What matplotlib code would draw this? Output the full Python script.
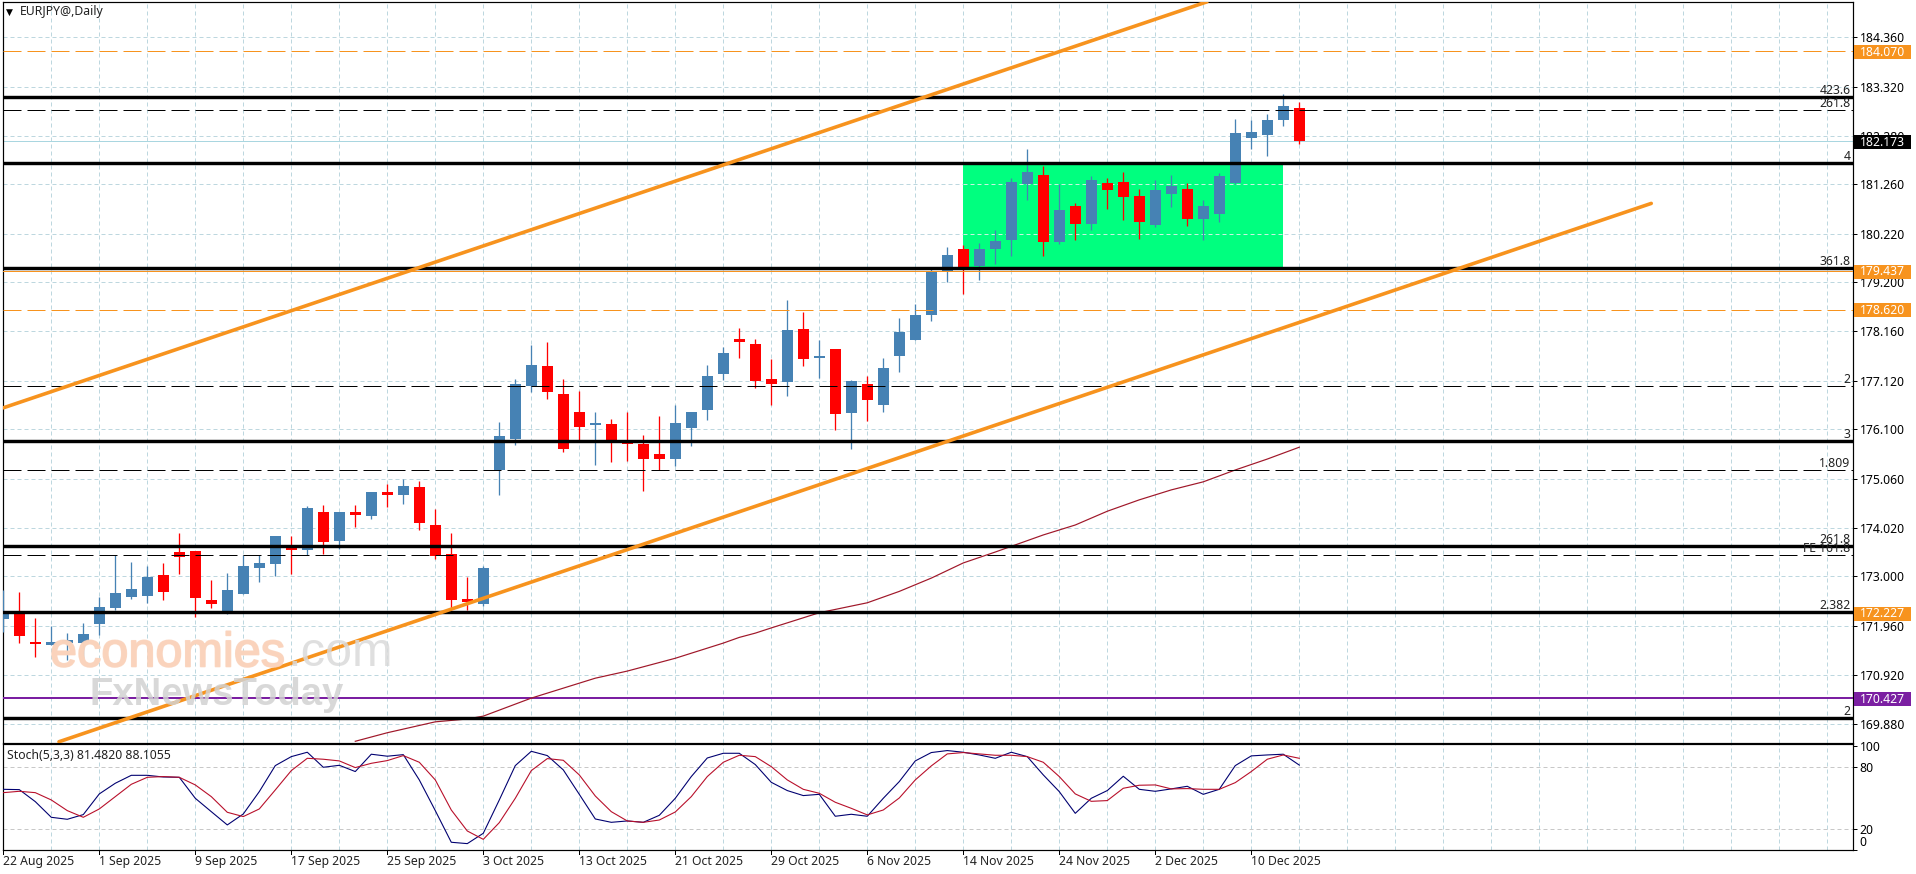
# -*- coding: utf-8 -*-
import matplotlib
matplotlib.use("Agg")
import matplotlib.pyplot as plt
import matplotlib.patheffects as pe
from matplotlib.patches import Rectangle
from matplotlib.transforms import blended_transform_factory

W, H = 1916, 874
FONT = "Noto Sans"
FS = 8.8

opens = [172.10,172.20,171.61,171.56,171.60,171.59,171.99,172.32,172.56,172.59,
         173.03,173.51,173.53,172.50,172.22,172.63,173.18,173.26,173.62,173.56,
         174.36,173.74,174.36,174.27,174.78,174.72,174.88,174.08,173.47,172.52,
         172.42,175.24,175.90,177.01,177.43,176.84,176.46,176.18,176.20,175.87,
         175.78,175.57,175.47,176.12,176.50,177.26,178.00,177.89,177.15,177.09,
         178.21,177.60,177.79,176.44,177.05,176.60,177.64,177.98,178.50,179.43,
         179.90,179.54,179.90,180.09,181.27,181.46,180.04,180.80,180.42,181.29,
         181.31,181.01,180.40,181.06,181.16,180.53,180.63,181.29,182.24,182.30,
         182.62,182.87]
highs = [172.70,172.67,172.12,171.94,171.80,172.02,172.56,173.45,173.30,173.22,
         173.28,173.91,173.53,172.92,173.07,173.45,173.45,173.85,173.85,174.47,
         174.50,174.36,174.50,174.78,174.95,175.05,175.01,174.42,173.91,172.99,
         173.22,176.26,177.16,177.87,177.93,177.15,176.90,176.46,176.31,176.46,
         175.97,176.37,176.60,176.46,177.45,177.83,178.23,178.00,177.57,178.82,
         178.57,177.98,177.79,177.13,177.22,177.60,178.44,178.74,179.49,179.94,
         179.98,180.02,180.30,181.39,182.01,181.65,181.27,180.87,181.44,181.39,
         181.52,181.16,181.35,181.46,181.29,180.93,181.50,182.64,182.62,182.74,
         183.17,182.99]
lows = [171.83,171.59,171.30,171.55,171.23,171.28,171.76,172.29,172.53,172.43,
        172.49,173.05,172.13,172.33,172.20,172.63,172.88,173.01,173.05,173.45,
        173.47,173.58,174.04,174.21,174.46,174.53,173.98,173.36,172.29,172.29,
        172.37,174.72,175.77,176.88,176.73,175.61,175.87,175.34,175.40,175.42,
        174.79,175.23,175.33,175.74,176.29,177.13,177.60,176.96,176.60,176.79,
        177.43,177.17,176.08,175.68,176.27,176.47,177.30,177.98,178.38,179.20,
        178.95,179.24,179.58,179.75,180.93,179.75,180.00,180.09,180.30,180.74,
        180.51,180.11,180.36,180.78,180.38,180.09,180.47,181.27,182.00,181.86,
        182.49,182.11]
closes = [172.20,171.75,171.58,171.61,171.66,171.78,172.35,172.65,172.73,172.99,
          172.67,173.41,172.54,172.42,172.71,173.22,173.28,173.85,173.56,174.44,
          173.72,174.36,174.29,174.78,174.72,174.91,174.12,173.43,172.50,172.46,
          173.18,175.96,177.06,177.45,176.88,175.69,176.14,176.22,175.87,175.78,
          175.47,175.47,176.22,176.46,177.22,177.70,177.93,177.11,177.05,178.19,
          177.58,177.64,176.42,177.11,176.71,177.38,178.14,178.50,179.43,179.77,
          179.50,179.90,180.07,181.31,181.52,180.04,180.72,180.42,181.35,181.14,
          180.99,180.46,181.14,181.23,180.53,180.80,181.44,182.34,182.37,182.62,
          182.91,182.173]

# moving average, read at these bars
ma_idx = [22,24,27,29,30,33,35,37,39,42,45,46,47,48,51,52,54,56,58,60,62,65,67,69,71,73,75,77,79,81]
ma_val = [169.52,169.70,169.93,169.99,170.05,170.43,170.64,170.85,171.00,171.27,
          171.59,171.71,171.80,171.91,172.23,172.30,172.44,172.68,172.96,173.28,
          173.51,173.87,174.08,174.37,174.61,174.82,174.99,175.24,175.47,175.72]

stoch_main = [58.3,58.0,46.5,31.5,29.6,34.1,53.9,64.1,71.7,71.7,
              70.1,69.8,49.7,36.9,24.2,34.7,56.1,81.0,89.6,93.8,
              79.4,81.3,75.3,91.9,90.0,91.5,67.3,37.9,7.6,6.3,
              16.2,48.1,81.0,94.7,90.6,76.9,53.5,29.9,26.7,28.0,
              26.7,33.4,49.7,70.5,88.3,92.8,92.8,82.0,65.0,57.1,
              52.3,53.5,32.5,34.4,32.5,49.7,65.7,85.5,93.5,95.4,
              93.8,91.2,88.0,93.8,89.6,72.1,56.1,35.3,49.7,57.1,
              70.8,58.3,56.4,58.7,61.2,53.5,58.3,81.0,90.3,91.2,
              91.9,81.5]
stoch_signal = [55.1,56.4,55.1,48.1,37.9,31.5,39.5,51.3,63.1,69.8,
                70.5,69.8,62.5,51.3,36.3,32.2,39.5,57.7,76.2,88.0,
                87.1,85.5,79.1,83.2,85.8,90.6,84.2,67.3,38.5,18.4,
                10.4,26.4,49.7,76.2,87.7,86.1,72.1,51.9,36.9,28.0,
                26.7,28.9,36.6,51.3,70.5,84.2,90.9,89.6,80.0,67.3,
                58.3,54.5,45.9,40.1,33.8,38.5,50.0,67.3,80.7,92.2,
                93.5,92.2,90.9,90.9,89.6,84.2,70.5,53.9,46.8,47.5,
                59.3,62.2,62.5,58.7,59.0,58.3,58.3,64.7,75.3,87.1,
                91.2,88.0]

price_ticks = [184.36,183.32,182.28,181.26,180.22,179.20,178.16,177.12,
               176.10,175.06,174.02,173.00,171.96,170.92,169.88]
date_ticks = ["22 Aug 2025","1 Sep 2025","9 Sep 2025","17 Sep 2025","25 Sep 2025",
              "3 Oct 2025","13 Oct 2025","21 Oct 2025","29 Oct 2025","6 Nov 2025",
              "14 Nov 2025","24 Nov 2025","2 Dec 2025","10 Dec 2025"]

# (price, label) for the level lines
solid_levels = [(183.10,"423.6"),(181.71,"4"),(179.49,"361.8"),(175.86,"3"),
                (173.64,"261.8"),(172.245,"2.382"),(170.02,"2")]
dashed_levels = [(182.82,"261.8"),(177.02,"2"),(175.24,"1.809"),(173.44,"FE 161.8")]
orange_dashed = [184.07,178.62]
orange_solid = [179.437,172.227]
purple_level = 170.427
last_price = 182.173

upper_channel = ([0,75.23],[176.55,185.11])
lower_channel = ([3.48,103.0],[169.51,180.86])
box_bars = (60,80)
box_prices = (179.50,181.70)

BLUE = "#4682B4"
RED = "#FF0000"
ORANGE = "#F7931E"
GRID = "#BDD7DF"
DASH_GRID = (0,(4,3))
DASH_LEVEL = (0,(18,6))
PX = 0.72


def make_axes(left, top, right, bottom):
    return fig.add_axes([left/W, 1-bottom/H, (right-left)/W, (bottom-top)/H])


def price_box(ax, value, color):
    trans = blended_transform_factory(ax.transAxes, ax.transData)
    x0 = 1.0005
    ax.add_patch(Rectangle((x0,value-0.165), 57/1850, 0.295, transform=trans, color=color,
                           clip_on=False, zorder=20, lw=0))
    ax.text(1+7/1850, value-0.02, "%.3f" % value, transform=trans, color="white", fontsize=FS,
            family=FONT, va="center", ha="left", zorder=21)


fig = plt.figure(figsize=(W/100,H/100), dpi=100, facecolor="white")
ax = make_axes(2.5,2.3,1852.7,742.7)
ax2 = make_axes(2.5,744.3,1852.7,850.2)

xlim = (-0.05,115.59)
for a in (ax,ax2):
    a.set_xlim(*xlim)
    for s in a.spines.values():
        s.set_linewidth(PX*1.2)
    a.set_axisbelow(True)
    a.set_xticks(range(0,116,3))
    a.grid(axis="x",color=GRID,lw=PX,ls=DASH_GRID,zorder=0)
    a.tick_params(axis="y",length=3,width=PX,right=True,left=False,labelright=True,labelleft=False,
                  labelsize=FS,pad=2)
    a.tick_params(axis="x",length=0,labelbottom=False)

ax.set_ylim(169.49,185.10)
ax.set_yticks(price_ticks)
ax.set_yticklabels(["%.3f" % p for p in price_ticks],family=FONT)
ax.grid(axis="y",color=GRID,lw=PX,ls=DASH_GRID,zorder=0)

# green box
ax.add_patch(Rectangle((box_bars[0],box_prices[0]),box_bars[1]-box_bars[0],box_prices[1]-box_prices[0],
                       color="#00FF7F",lw=0,zorder=1))
for p in price_ticks:
    if box_prices[0] < p < box_prices[1]:
        ax.plot(box_bars,[p,p],color="#C8F5E0",lw=PX,ls=DASH_GRID,zorder=1.2)

# candles
xs = list(range(len(opens)))
colors = [BLUE if c >= o else RED for o,c in zip(opens,closes)]
bottoms = [min(o,c) for o,c in zip(opens,closes)]
heights = [abs(o-c) for o,c in zip(opens,closes)]
ax.vlines(xs,lows,highs,colors=colors,lw=PX*1.3,zorder=3)
ax.bar(xs,heights,bottom=bottoms,width=0.69,color=colors,lw=0,zorder=3)

# level lines
trans = blended_transform_factory(ax.transAxes,ax.transData)
ax.axhline(last_price,color="#A9D6E0",lw=PX,zorder=2)
for p in orange_dashed:
    ax.axhline(p,color=ORANGE,lw=PX,ls=DASH_LEVEL,zorder=4)
for p in orange_solid:
    ax.axhline(p,color=ORANGE,lw=PX,zorder=4)
ax.axhline(purple_level,color="#7B1FA2",lw=PX*2,zorder=4)
for p,label in dashed_levels:
    ax.axhline(p,color="black",lw=PX,ls=DASH_LEVEL,zorder=5)
for p,label in solid_levels:
    ax.axhline(p,color="black",lw=PX*3.4,zorder=5)
for p,label in solid_levels+dashed_levels:
    ax.annotate(label,xy=(1,p),xycoords=trans,xytext=(-2,3),textcoords="offset pixels",
                ha="right",va="baseline",fontsize=FS,family=FONT,color="#222222",zorder=6)

ax.plot(*upper_channel,color=ORANGE,lw=PX*3.6,solid_capstyle="round",zorder=6)
ax.plot(*lower_channel,color=ORANGE,lw=PX*3.6,solid_capstyle="round",zorder=6)
ax.plot(ma_idx,ma_val,color="#A0182A",lw=PX*1.2,zorder=4)

# price boxes on the axis
price_box(ax,184.07,ORANGE)
price_box(ax,179.437,ORANGE)
price_box(ax,178.62,ORANGE)
price_box(ax,172.227,ORANGE)
price_box(ax,170.427,"#7B1FA2")
price_box(ax,last_price,"black")

# title and watermark
fig.text(20/W,1-12/H,"EURJPY@,Daily",fontsize=FS,family=FONT,va="center",color="#222222")
fig.text(6/W,1-12/H,"\u25BC",fontsize=6.5,family="DejaVu Sans",va="center",color="black")
t1 = fig.text(50/W,1-654/H,"economies",fontsize=35,family="Liberation Sans",va="center",
              color="#FAD3BC",alpha=0.9,zorder=30)
t2 = fig.text(288/W,1-654/H,".com",fontsize=35,family="Liberation Sans",va="center",
              color="#DADADA",alpha=0.85,zorder=30)
t1.set_path_effects([pe.withStroke(linewidth=1.2,foreground="#FAD3BC")])
fig.text(89/W,1-695/H,"FxNewsToday",fontsize=27.5,family="Liberation Sans",weight="bold",va="center",
         color="#D2D2D2",alpha=0.85,zorder=30)

# stochastic panel
ax2.set_ylim(0,101.4)
ax2.set_yticks([100,80,20,0])
ax2.set_yticklabels(["100","80","20",""],family=FONT)
ax2.grid(axis="y",color="#C8C8C8",lw=PX,ls=DASH_GRID,zorder=0)
ax2.yaxis.get_gridlines()[0].set_visible(False)
ax2.yaxis.get_gridlines()[3].set_visible(False)
ax2.plot(xs,stoch_main,color="#000070",lw=PX*1.1,zorder=3)
ax2.plot(xs,stoch_signal,color="#B80F2A",lw=PX*1.1,zorder=4)
fig.text(7/W,1-755.7/H,"Stoch(5,3,3) 81.4820 88.1055",fontsize=FS,family=FONT,va="center",color="#222222")
fig.text(1859/W,1-842/H,"0",fontsize=FS,family=FONT,va="center",color="black")

# date labels, every 6 bars
for k,label in enumerate(date_ticks):
    ax2.plot([6*k,6*k],[-4,0],color="black",lw=PX,clip_on=False,zorder=5)
    ax2.annotate(label,xy=(6*k,0),xycoords=("data","axes fraction"),xytext=(0,-11.7),
                 textcoords="offset pixels",ha="left",va="center",fontsize=FS,family=FONT,color="#222222")

fig.savefig("out.png",dpi=100,facecolor="white")
